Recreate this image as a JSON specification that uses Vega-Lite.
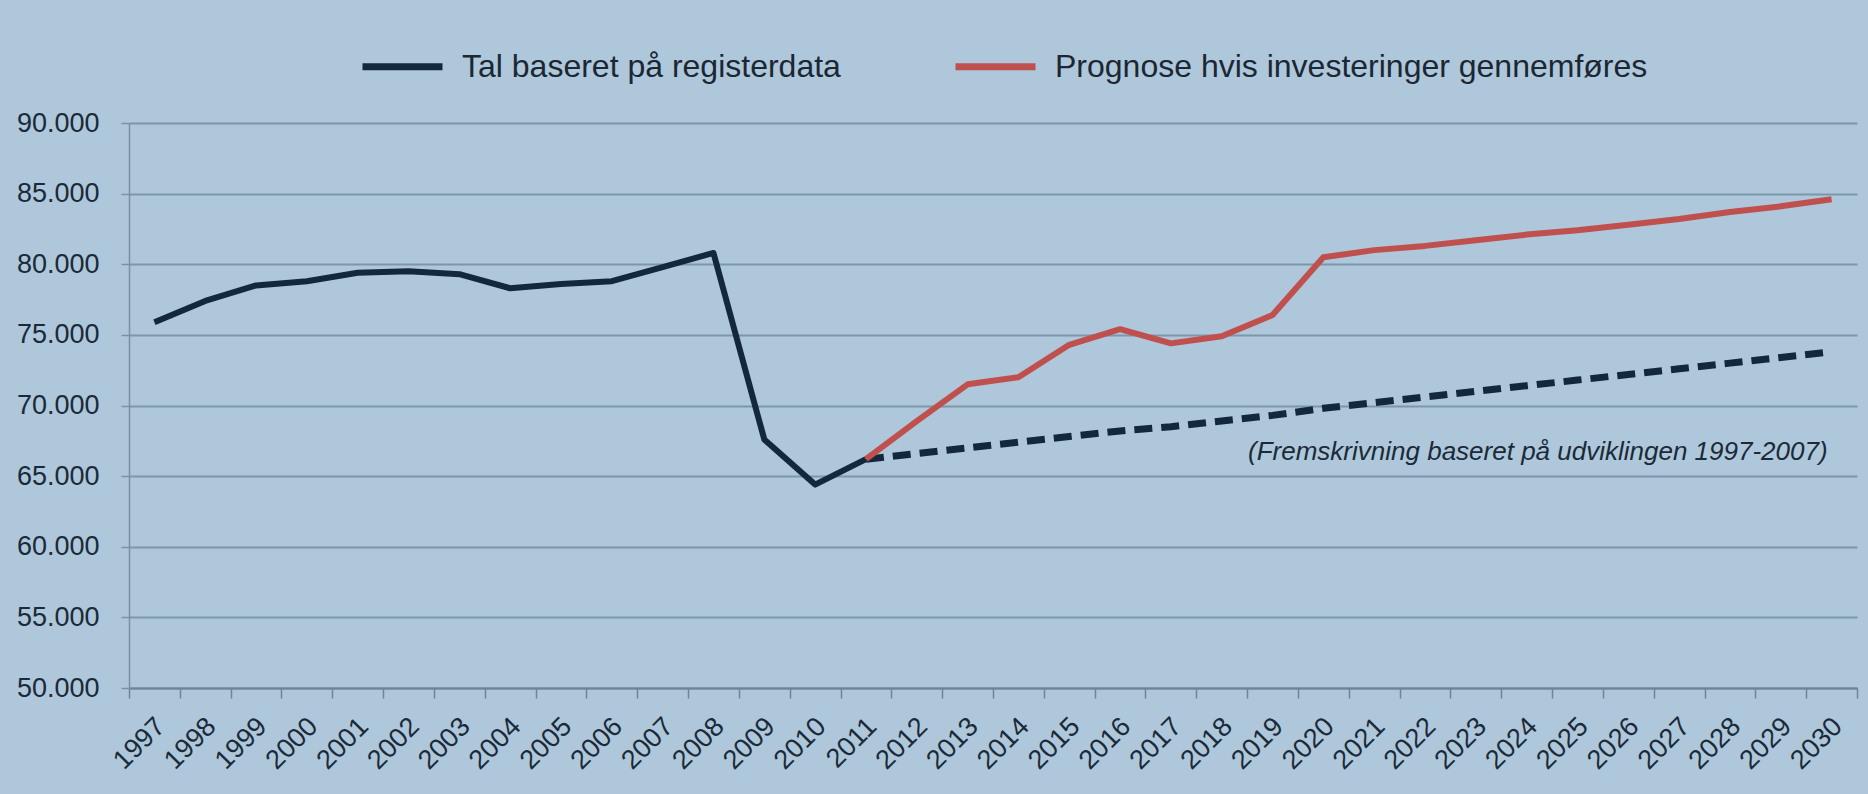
{
  "$schema": "https://vega.github.io/schema/vega-lite/v6.json",
  "width": 1728,
  "height": 565,
  "autosize": {"type": "none"},
  "padding": {"left": 129, "top": 123, "right": 11, "bottom": 106},
  "background": "#aec7db",
  "config": {"view": {"stroke": null}, "font": "Liberation Sans"},
  "datasets": {
    "main": [
      {"year": "1997", "serie": "Tal baseret på registerdata", "value": 75900},
      {"year": "1998", "serie": "Tal baseret på registerdata", "value": 77400},
      {"year": "1999", "serie": "Tal baseret på registerdata", "value": 78500},
      {"year": "2000", "serie": "Tal baseret på registerdata", "value": 78800},
      {"year": "2001", "serie": "Tal baseret på registerdata", "value": 79400},
      {"year": "2002", "serie": "Tal baseret på registerdata", "value": 79500},
      {"year": "2003", "serie": "Tal baseret på registerdata", "value": 79300},
      {"year": "2004", "serie": "Tal baseret på registerdata", "value": 78300},
      {"year": "2005", "serie": "Tal baseret på registerdata", "value": 78600},
      {"year": "2006", "serie": "Tal baseret på registerdata", "value": 78800},
      {"year": "2007", "serie": "Tal baseret på registerdata", "value": 79800},
      {"year": "2008", "serie": "Tal baseret på registerdata", "value": 80800},
      {"year": "2009", "serie": "Tal baseret på registerdata", "value": 67600},
      {"year": "2010", "serie": "Tal baseret på registerdata", "value": 64400},
      {"year": "2011", "serie": "Tal baseret på registerdata", "value": 66200},
      {"year": "2011", "serie": "Prognose hvis investeringer gennemføres", "value": 66200},
      {"year": "2012", "serie": "Prognose hvis investeringer gennemføres", "value": 68900},
      {"year": "2013", "serie": "Prognose hvis investeringer gennemføres", "value": 71500},
      {"year": "2014", "serie": "Prognose hvis investeringer gennemføres", "value": 72000},
      {"year": "2015", "serie": "Prognose hvis investeringer gennemføres", "value": 74300},
      {"year": "2016", "serie": "Prognose hvis investeringer gennemføres", "value": 75400},
      {"year": "2017", "serie": "Prognose hvis investeringer gennemføres", "value": 74400},
      {"year": "2018", "serie": "Prognose hvis investeringer gennemføres", "value": 74900},
      {"year": "2019", "serie": "Prognose hvis investeringer gennemføres", "value": 76400},
      {"year": "2020", "serie": "Prognose hvis investeringer gennemføres", "value": 80500},
      {"year": "2021", "serie": "Prognose hvis investeringer gennemføres", "value": 81000},
      {"year": "2022", "serie": "Prognose hvis investeringer gennemføres", "value": 81300},
      {"year": "2023", "serie": "Prognose hvis investeringer gennemføres", "value": 81700},
      {"year": "2024", "serie": "Prognose hvis investeringer gennemføres", "value": 82100},
      {"year": "2025", "serie": "Prognose hvis investeringer gennemføres", "value": 82400},
      {"year": "2026", "serie": "Prognose hvis investeringer gennemføres", "value": 82800},
      {"year": "2027", "serie": "Prognose hvis investeringer gennemføres", "value": 83200},
      {"year": "2028", "serie": "Prognose hvis investeringer gennemføres", "value": 83700},
      {"year": "2029", "serie": "Prognose hvis investeringer gennemføres", "value": 84100},
      {"year": "2030", "serie": "Prognose hvis investeringer gennemføres", "value": 84600}
    ],
    "trend": [
      {"year": "2011", "value": 66200},
      {"year": "2012", "value": 66600},
      {"year": "2013", "value": 67000},
      {"year": "2014", "value": 67400},
      {"year": "2015", "value": 67800},
      {"year": "2016", "value": 68200},
      {"year": "2017", "value": 68500},
      {"year": "2018", "value": 68900},
      {"year": "2019", "value": 69300},
      {"year": "2020", "value": 69800},
      {"year": "2021", "value": 70200},
      {"year": "2022", "value": 70600},
      {"year": "2023", "value": 71000},
      {"year": "2024", "value": 71400},
      {"year": "2025", "value": 71800},
      {"year": "2026", "value": 72200},
      {"year": "2027", "value": 72600},
      {"year": "2028", "value": 73000},
      {"year": "2029", "value": 73400},
      {"year": "2030", "value": 73800}
    ],
    "note": [
      {"year": "2030", "value": 66700, "label": "(Fremskrivning baseret på udviklingen  1997-2007)"}
    ]
  },
  "encoding": {
    "x": {
      "field": "year",
      "type": "ordinal",
      "scale": {"type": "band", "paddingInner": 0, "paddingOuter": 0},
      "axis": {
        "title": null,
        "tickBand": "extent",
        "labelAngle": -45,
        "labelAlign": "right",
        "labelBaseline": "middle",
        "labelFontSize": 27,
        "labelColor": "#1b2a38",
        "labelPadding": 24,
        "labelOffset": 6,
        "tickSize": 10,
        "tickColor": "#6f8494",
        "tickWidth": 1.5,
        "domainColor": "#6f8494",
        "domainWidth": 2,
        "grid": false
      }
    },
    "y": {
      "field": "value",
      "type": "quantitative",
      "scale": {"domain": [50000, 90000], "nice": false, "zero": false},
      "axis": {
        "title": null,
        "values": [50000, 55000, 60000, 65000, 70000, 75000, 80000, 85000, 90000],
        "labelExpr": "replace(format(datum.value, ','), ',', '.')",
        "labelFontSize": 27,
        "labelColor": "#1b2a38",
        "labelPadding": 22,
        "tickSize": 8,
        "tickColor": "#7d93a4",
        "tickWidth": 1.5,
        "grid": true,
        "gridColor": "#7d97a9",
        "gridWidth": 2,
        "domainColor": "#7d8f9c",
        "domainWidth": 1.5
      }
    }
  },
  "layer": [
    {
      "data": {"name": "trend"},
      "mark": {"type": "line", "strokeWidth": 7, "strokeDash": [18, 9], "color": "#14283c"},
      "encoding": {}
    },
    {
      "data": {"name": "main"},
      "mark": {"type": "line", "strokeWidth": 6, "strokeJoin": "round"},
      "encoding": {
        "color": {
          "field": "serie",
          "type": "nominal",
          "scale": {
            "domain": ["Tal baseret på registerdata", "Prognose hvis investeringer gennemføres"],
            "range": ["#14283c", "#c0504d"]
          },
          "legend": {
            "title": null,
            "orient": "none",
            "legendX": 230,
            "legendY": -100,
            "direction": "horizontal",
            "columns": 2,
            "symbolType": "stroke",
            "symbolSize": 6400,
            "symbolStrokeWidth": 7,
            "labelFontSize": 32,
            "labelColor": "#1b2733",
            "labelOffset": 16,
            "columnPadding": 100,
            "padding": 0,
            "labelLimit": 0
          }
        }
      }
    },
    {
      "data": {"name": "note"},
      "mark": {"type": "text", "align": "right", "baseline": "middle", "fontStyle": "italic", "fontSize": 26, "color": "#1b2a38", "dx": -4},
      "encoding": {"text": {"field": "label"}}
    }
  ]
}
